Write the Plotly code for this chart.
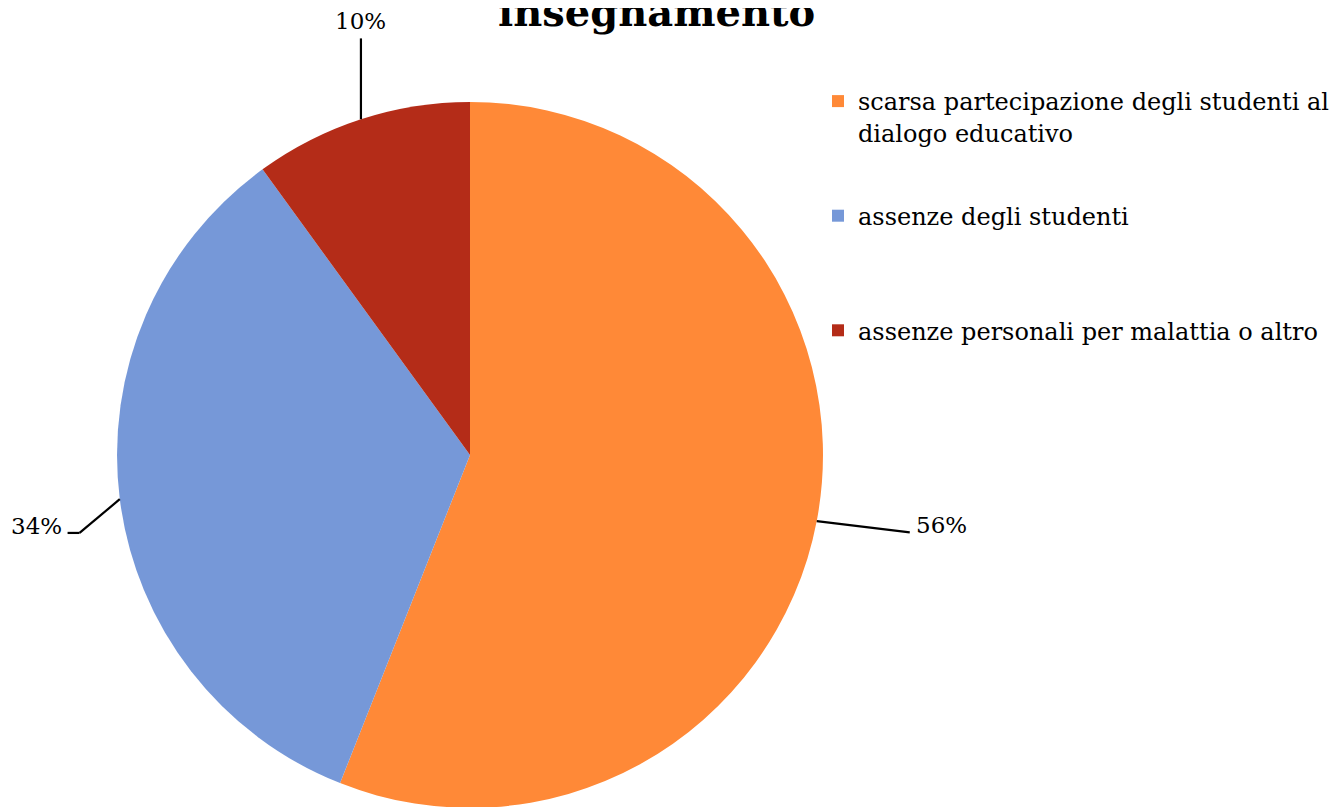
import math
import plotly.graph_objects as go

# ---- data ----
categories = [
    "scarsa partecipazione degli studenti al dialogo educativo",
    "assenze degli studenti",
    "assenze personali per malattia o altro",
]
values = [56, 34, 10]
colors = ["#FF8937", "#7698D8", "#B42C18"]
title_text = "insegnamento"

# ---- layout / style ----
W, H = 1338, 807
OFF = 8  # page body margin of the html page
dom_x = [0.0, 0.6906]
dom_y = [0.0088, 0.8836]
FONT = "DejaVu Serif"
legend_text = [
    "scarsa partecipazione degli studenti al<br>dialogo educativo<br> ",
    "assenze degli studenti<br> <br> ",
    "assenze personali per malattia o altro",
]
# per-slice label placement (style): radial distance factor, angle offset, tail, vertical
label_style = [
    {"dist": 1.265, "offset": -0.8, "tail": 0, "vertical": False},
    {"dist": 1.128, "offset": -4.1, "tail": 12, "vertical": False},
    {"dist": 1.18, "offset": 0, "tail": 0, "vertical": True},
]

fig = go.Figure(
    go.Pie(
        labels=categories,
        values=values,
        sort=False,
        direction="clockwise",
        rotation=0,
        marker=dict(colors=colors, line=dict(width=0)),
        textinfo="none",
        hoverinfo="label+percent",
        showlegend=False,
        domain=dict(x=dom_x, y=dom_y),
    )
)

# legend entries (one group per category for spacing control)
for i, (name, col) in enumerate(zip(legend_text, colors)):
    fig.add_trace(go.Scatter(
        x=[None], y=[None], mode="markers", name=name,
        marker=dict(symbol="square", size=12, color=col),
        legendgroup=f"g{i}", showlegend=True, hoverinfo="skip",
    ))

# pie geometry in page pixels
cx = (dom_x[0] + dom_x[1]) / 2 * W + OFF
r = min((dom_x[1] - dom_x[0]) * W, (dom_y[1] - dom_y[0]) * H) / 2
cy = H - (dom_y[0] + dom_y[1]) / 2 * H + OFF


def px(x, y):
    return (x - OFF) / W, 1 - (y - OFF) / H


total = sum(values)
cum = 0
shapes = []
annotations = []
for v, st in zip(values, label_style):
    mid = (cum + v / 2) / total * 360
    cum += v
    pct = f"{round(v / total * 100)}%"
    t = math.radians(mid)
    ex, ey = cx + r * math.sin(t), cy - r * math.cos(t)
    if st["vertical"]:
        qx, qy = ex, cy - st["dist"] * r
        pts = [(ex, ey), (qx, qy)]
        tx, ty = qx, qy - 2
        xa, ya = "center", "bottom"
    else:
        t2 = math.radians(mid + st["offset"])
        pxx, pyy = cx + st["dist"] * r * math.sin(t2), cy - st["dist"] * r * math.cos(t2)
        side = 1 if math.sin(t2) > 0 else -1
        qx, qy = pxx + side * st["tail"], pyy
        pts = [(ex, ey), (pxx, pyy), (qx, qy)]
        tx, ty = qx + side * 4, qy - 7
        xa = "left" if side > 0 else "right"
        ya = "middle"
    for (x0, y0), (x1, y1) in zip(pts[:-1], pts[1:]):
        a0, b0 = px(x0, y0)
        a1, b1 = px(x1, y1)
        shapes.append(dict(type="line", xref="paper", yref="paper", x0=a0, y0=b0,
                           x1=a1, y1=b1, line=dict(color="black", width=2.2)))
    ax_, ay_ = px(tx, ty)
    annotations.append(dict(text=pct, xref="paper", yref="paper", x=ax_, y=ay_,
                            xanchor=xa, yanchor=ya, showarrow=False,
                            font=dict(family=FONT, size=23, color="black")))

tx_, ty_ = px(656, 37)
annotations.append(dict(text=f"<b>{title_text}</b>", xref="paper", yref="paper",
                        x=tx_, y=ty_, xanchor="center", yanchor="bottom", showarrow=False,
                        font=dict(family="DejaVu Serif", size=40, color="black")))

lx, ly = px(818, 79)
fig.update_layout(
    width=W,
    height=H,
    margin=dict(l=0, r=0, t=0, b=0),
    paper_bgcolor="white",
    plot_bgcolor="white",
    xaxis=dict(visible=False),
    yaxis=dict(visible=False),
    shapes=shapes,
    annotations=annotations,
    showlegend=True,
    legend=dict(x=lx, y=ly, xanchor="left", yanchor="top", valign="top",
                font=dict(family=FONT, size=24, color="black"),
                bgcolor="rgba(0,0,0,0)", traceorder="grouped", tracegroupgap=18),
)

fig.write_html("out.html")
